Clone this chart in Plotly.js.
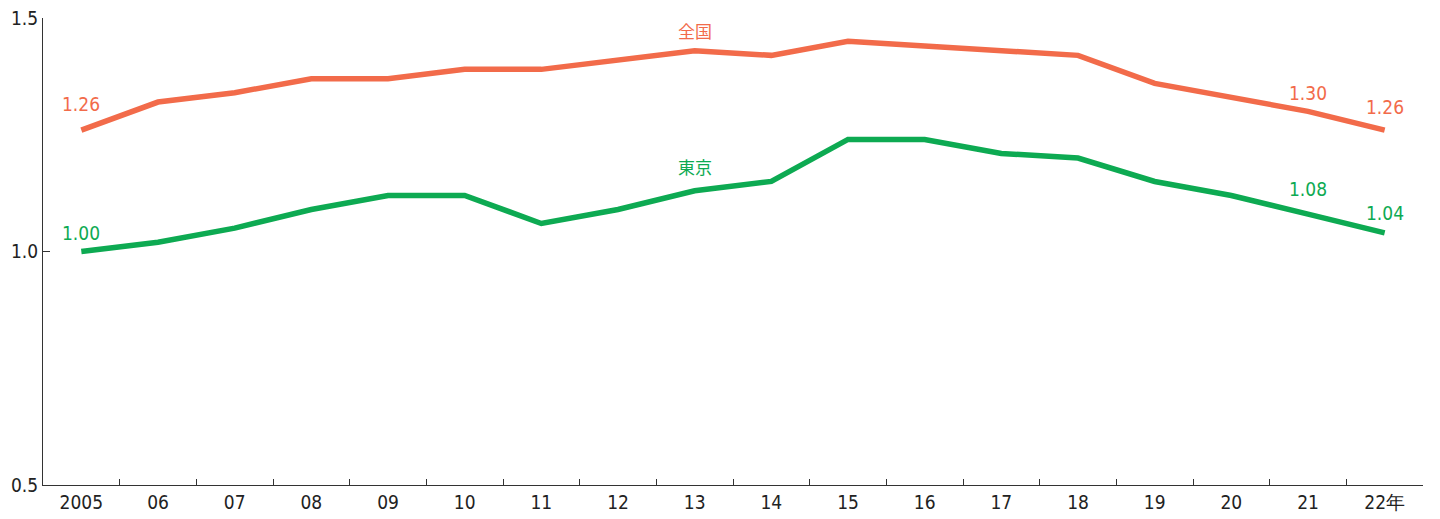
<!DOCTYPE html>
<html>
<head>
<meta charset="utf-8">
<script src="https://cdn.plot.ly/plotly-3.0.1.min.js"></script>
<style>html,body{margin:0;padding:0;background:#fff;}#chart{width:1440px;height:519px;}</style>
</head>
<body>
<div id="chart"></div>
<script>
const years = ["2005","06","07","08","09","10","11","12","13","14","15","16","17","18","19","20","21","22年"];
const zenkoku = [1.26,1.32,1.34,1.37,1.37,1.39,1.39,1.41,1.43,1.42,1.45,1.44,1.43,1.42,1.36,1.33,1.30,1.26];
const tokyo = [1.00,1.02,1.05,1.09,1.12,1.12,1.06,1.09,1.13,1.15,1.24,1.24,1.21,1.20,1.15,1.12,1.08,1.04];
const seriesNames = ["全国","東京"];
const nameLabelIndex = 8;
const valueLabelIdx = [0,16,17];
const zenkokuShift = [26,18,23];
const tokyoShift = [19,25,20];

const ORANGE = "#F26B4A";
const GREEN = "#0DAA52";
const FONT = "'Liberation Sans Narrow','DejaVu Sans Condensed','Roboto Condensed',Arial,sans-serif";

const traces = [
  {x: years, y: zenkoku, type: "scatter", mode: "lines", line: {color: ORANGE, width: 5.5}, hoverinfo: "skip"},
  {x: years, y: tokyo, type: "scatter", mode: "lines", line: {color: GREEN, width: 5.5}, hoverinfo: "skip"}
];

const ann = [];
ann.push({x: nameLabelIndex, y: zenkoku[nameLabelIndex], text: seriesNames[0], showarrow: false, yshift: 20, font: {size: 17, color: ORANGE, family: "'Noto Sans CJK JP',sans-serif"}});
ann.push({x: nameLabelIndex, y: tokyo[nameLabelIndex], text: seriesNames[1], showarrow: false, yshift: 24, font: {size: 17, color: GREEN, family: "'Noto Sans CJK JP',sans-serif"}});
valueLabelIdx.forEach((i, k) => {
  ann.push({x: i, y: zenkoku[i], text: zenkoku[i].toFixed(2), showarrow: false, yshift: zenkokuShift[k], font: {size: 19, color: ORANGE, family: FONT}});
  ann.push({x: i, y: tokyo[i], text: tokyo[i].toFixed(2), showarrow: false, yshift: tokyoShift[k], font: {size: 19, color: GREEN, family: FONT}});
});

const layout = {
  width: 1440, height: 519,
  margin: {l: 43, r: 17, t: 18, b: 34},
  showlegend: false,
  paper_bgcolor: "#fff", plot_bgcolor: "#fff",
  font: {family: FONT, size: 19, color: "#222"},
  xaxis: {
    type: "category", range: [-0.5, 17.5],
    showline: true, linecolor: "#333", linewidth: 1,
    ticks: "inside", tickson: "boundaries", ticklen: 6, tickcolor: "#333", tickwidth: 1,
    showgrid: false, zeroline: false, fixedrange: true,
    tickfont: {size: 19, family: FONT, color: "#222"}
  },
  yaxis: {
    range: [0.5, 1.5], tickvals: [0.5, 1.0, 1.5], ticktext: ["0.5","1.0","1.5"],
    showline: true, linecolor: "#333", linewidth: 1,
    ticks: "inside", ticklen: 7, tickcolor: "#333", tickwidth: 1,
    showgrid: false, zeroline: false, fixedrange: true,
    tickfont: {size: 19, family: FONT, color: "#222"}
  },
  annotations: ann
};

Plotly.newPlot("chart", traces, layout, {displayModeBar: false, staticPlot: true});
</script>
</body>
</html>
